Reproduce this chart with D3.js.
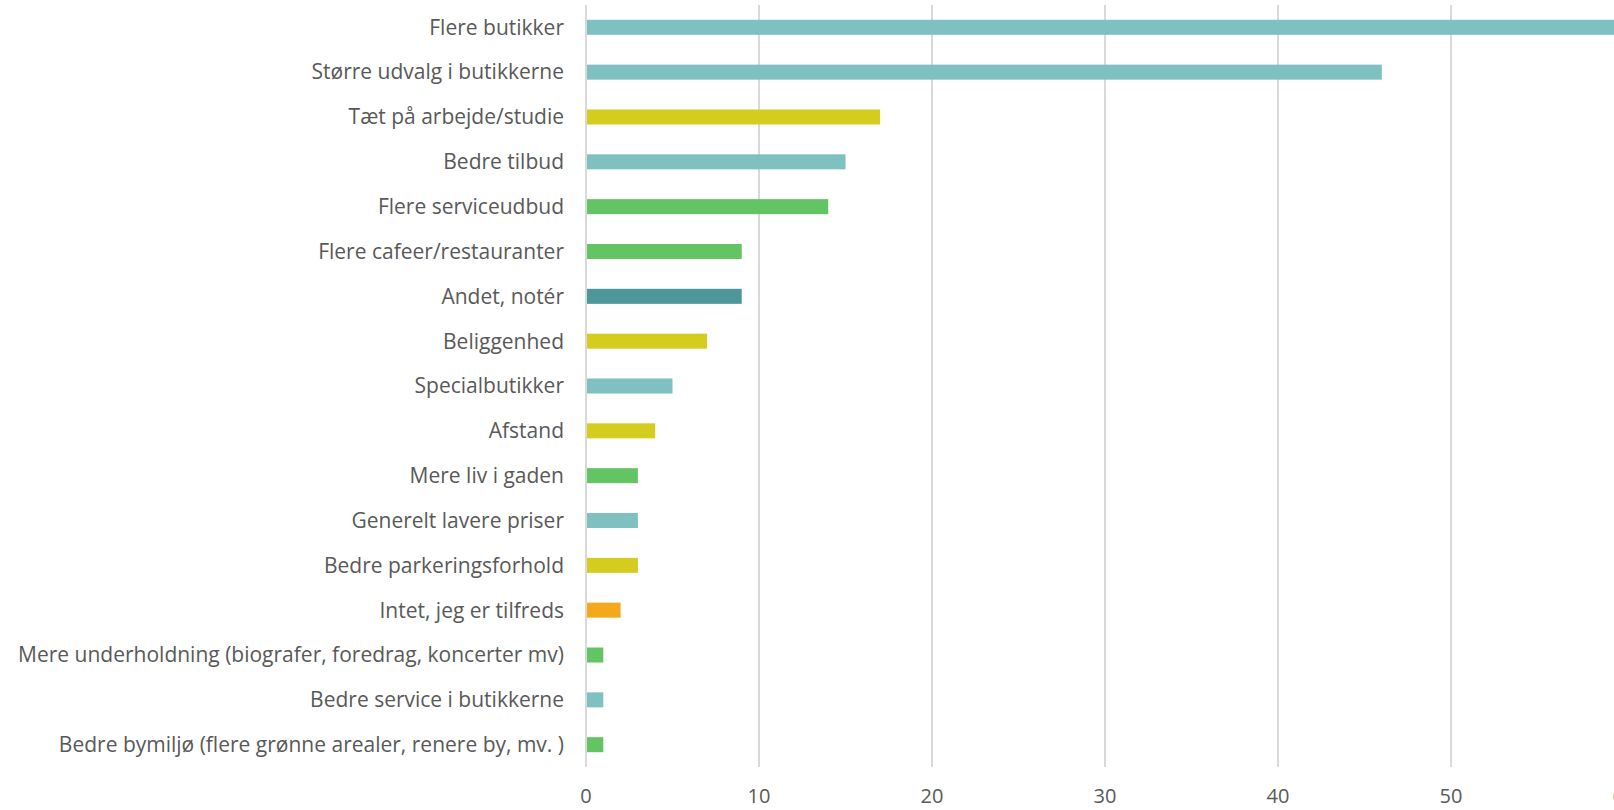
<!DOCTYPE html>
<meta charset="utf-8">
<style>
  body { margin: 0; background: #fff; }
  svg text { font-family: "Open Sans", sans-serif; fill: #595959; }
</style>
<svg width="1614" height="810"></svg>
<script src="https://d3js.org/d3.v7.min.js"></script>
<script>

var categories = [
  "Flere butikker",
  "Større udvalg i butikkerne",
  "Tæt på arbejde/studie",
  "Bedre tilbud",
  "Flere serviceudbud",
  "Flere cafeer/restauranter",
  "Andet, notér",
  "Beliggenhed",
  "Specialbutikker",
  "Afstand",
  "Mere liv i gaden",
  "Generelt lavere priser",
  "Bedre parkeringsforhold",
  "Intet, jeg er tilfreds",
  "Mere underholdning (biografer, foredrag, koncerter mv)",
  "Bedre service i butikkerne",
  "Bedre bymiljø (flere grønne arealer, renere by, mv. )"
];
var values = [61, 46, 17, 15, 14, 9, 9, 7, 5, 4, 3, 3, 3, 2, 1, 1, 1];
// colour group per bar
var groups = ["shop", "shop", "access", "shop", "life", "life", "other", "access", "shop",
  "access", "life", "shop", "access", "none", "life", "shop", "life"];
var groupColors = { shop: "#7fc0c0", access: "#d4cc1e", life: "#62c462", other: "#4d9699", none: "#f4a81b" };
var ticks = [0, 10, 20, 30, 40, 50, 60];

var svg = d3.select("svg");

var x = d3.scaleLinear()
    .domain([0, 60])
    .range([586, 1624]);

var y = d3.scaleBand()
    .domain(categories)
    .range([5, 767])
    .paddingInner(0.665)
    .paddingOuter(0.33);

// gridlines
svg.append("g")
  .selectAll("line")
  .data(ticks)
  .enter().append("line")
    .attr("x1", function(d) { return x(d); })
    .attr("x2", function(d) { return x(d); })
    .attr("y1", 5)
    .attr("y2", 767)
    .attr("stroke", "#d9d9d9")
    .attr("stroke-width", 2);

svg.append("g")
  .selectAll("rect")
  .data(values)
  .enter().append("rect")
    .attr("x", x(0) + 1)
    .attr("y", function(d, i) { return y(categories[i]); })
    .attr("width", function(d) { return x(d) - x(0) - 1; })
    .attr("height", y.bandwidth())
    .attr("fill", function(d, i) { return groupColors[groups[i]]; });

// category labels
svg.append("g")
  .selectAll("text")
  .data(categories)
  .enter().append("text")
    .attr("x", 564)
    .attr("y", function(d) { return y(d) + y.bandwidth() / 2; })
    .attr("dy", "0.35em")
    .attr("text-anchor", "end")
    .attr("font-size", 21)
    .text(function(d) { return d; });

// x axis labels
svg.append("g")
  .selectAll("text")
  .data(ticks)
  .enter().append("text")
    .attr("x", function(d) { return x(d); })
    .attr("y", 803)
    .attr("text-anchor", "middle")
    .attr("font-size", 20)
    .text(function(d) { return d; });

</script>
